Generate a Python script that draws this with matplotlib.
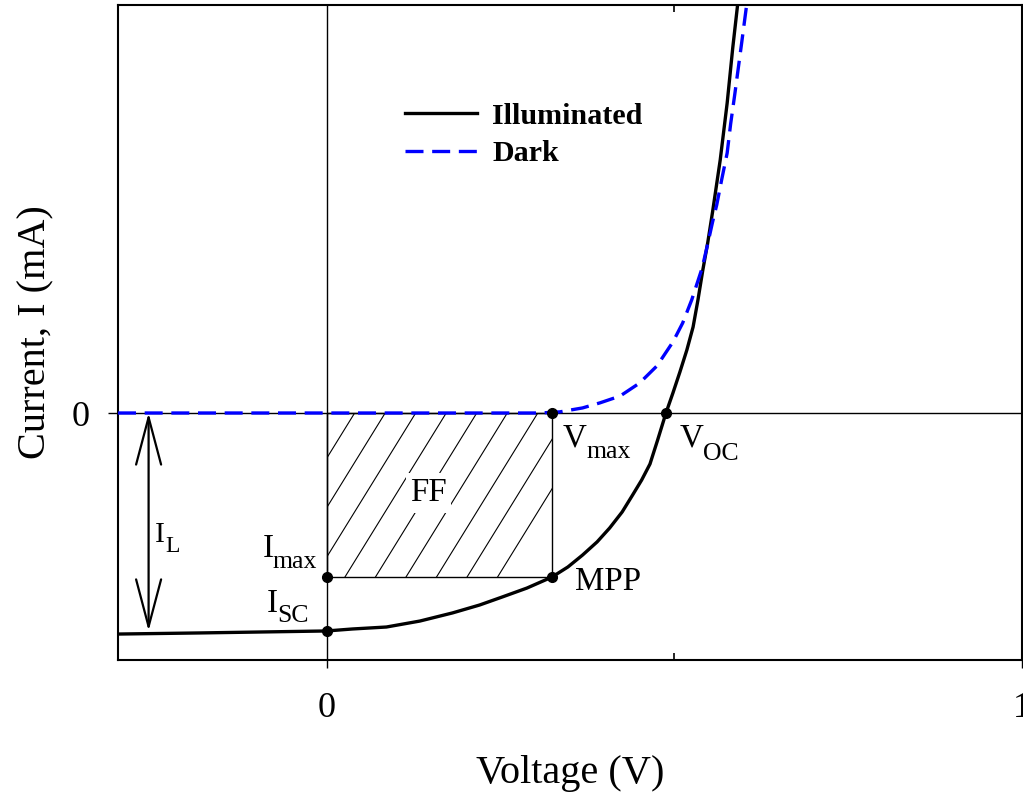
import numpy as np
import matplotlib
matplotlib.use("Agg")
import matplotlib.pyplot as plt
from matplotlib.patches import Rectangle
from matplotlib.ticker import FixedLocator

plt.rcParams['font.family'] = ['Liberation Serif', 'DejaVu Serif']

# ---- data (arbitrary units, I_SC ~ -1) ----
V_illum = [-0.300, -0.183, 0.000, 0.037, 0.086, 0.134, 0.181, 0.220, 0.253, 0.288, 0.324,
           0.347, 0.368, 0.389, 0.407, 0.425, 0.440, 0.453, 0.465, 0.476, 0.488, 0.498,
           0.508, 0.518, 0.527, 0.534, 0.541, 0.548, 0.555, 0.566, 0.576, 0.584, 0.591, 0.596]
I_illum = [-1.005, -1.000, -0.991, -0.982, -0.973, -0.946, -0.909, -0.873, -0.836, -0.796, -0.746,
           -0.700, -0.646, -0.586, -0.523, -0.450, -0.373, -0.305, -0.232, -0.123, 0.000, 0.091,
           0.186, 0.286, 0.391, 0.514, 0.650, 0.773, 0.914, 1.150, 1.409, 1.659, 1.855, 1.968]

V_dark = [-0.300, 0.000, 0.307, 0.335, 0.368, 0.393, 0.422, 0.450, 0.475, 0.498, 0.512,
          0.525, 0.540, 0.548, 0.555, 0.561, 0.568, 0.576, 0.581, 0.587, 0.597, 0.604, 0.607]
I_dark = [0.000, 0.000, 0.000, 0.005, 0.023, 0.046, 0.077, 0.136, 0.214, 0.323, 0.409,
          0.514, 0.659, 0.768, 0.868, 0.946, 1.059, 1.182, 1.314, 1.450, 1.686, 1.855, 1.923]

Isc = -0.991
Imax = -0.746
Vmax = 0.324
Voc = 0.488

xlim = (-0.3, 1.0)
ylim = (-1.123, 1.855)
x_major = [0, 1]
x_minor = [0.5]
y_major = [0]

fig = plt.figure(figsize=(10.23, 7.97), dpi=100)
ax = fig.add_axes([118/1023, 137/797, 904/1023, 655/797])
ax.set_xlim(*xlim)
ax.set_ylim(*ylim)

for s in ax.spines.values():
    s.set_linewidth(1.5)

# zero lines
ax.axvline(0, color='black', lw=1.0, zorder=1)
ax.axhline(0, color='black', lw=1.0, zorder=1)

# hatched FF rectangle
rect = Rectangle((0, Imax), Vmax, -Imax, facecolor='none', edgecolor='black', lw=1.0, zorder=2)
ax.add_patch(rect)
slope = 5.12
x_top0 = 0.0403
dxh = 0.0439
for k in range(-5, 9):
    xt = x_top0 + k * dxh
    xb = xt - (0 - Imax) / slope
    ln, = ax.plot([xt, xb], [0, Imax], color='black', lw=0.8, zorder=2)
    ln.set_clip_path(rect)

# curves
ax.plot(V_illum, I_illum, color='black', lw=2.4, label='Illuminated', zorder=4)
ax.plot(V_dark, I_dark, color='#0000FF', lw=2.4, dashes=(5.4, 2.6), label='Dark', zorder=5)

# markers
ax.plot([0, 0, Vmax, Vmax, Voc], [Isc, Imax, Imax, 0, 0], 'o', color='black', ms=7, zorder=6,
        clip_on=False)

# I_L double arrow
ax.annotate('', xy=(-0.256, 0), xytext=(-0.256, Isc),
            arrowprops=dict(arrowstyle='<->,head_length=34,head_width=9', mutation_scale=1,
                            lw=1.6, color='black', shrinkA=0, shrinkB=0))


def sub_label(x, y, main, sub, fs_main, fs_sub, dx_pt, dy_pt):
    ax.text(x, y, main, fontsize=fs_main, ha='left', va='baseline')
    ax.annotate(sub, xy=(x, y), xytext=(dx_pt, -dy_pt), textcoords='offset points',
                fontsize=fs_sub, ha='left', va='baseline')


fs = 23.8
fsub = 18.5
sub_label(0.3396, -0.1545, 'V', 'max', fs, fsub, 17.3, 7.9)
sub_label(0.5079, -0.1545, 'V', 'OC', fs, fsub, 16.6, 9.5)
sub_label(-0.0921, -0.6545, 'I', 'max', fs, fsub, 7.4, 8.0)
sub_label(-0.0863, -0.9045, 'I', 'SC', fs, fsub, 8.0, 7.2)
sub_label(-0.2475, -0.5864, 'I', 'L', 21.5, 17, 7.6, 7.2)
ax.text(0.3568, -0.8045, 'MPP', fontsize=fs, ha='left', va='baseline')
ax.text(0.1468, -0.3636, 'FF', fontsize=fs, ha='center', va='center', zorder=3,
        bbox=dict(facecolor='white', edgecolor='none', pad=3))

# ticks
ax.xaxis.set_major_locator(FixedLocator(x_major))
ax.xaxis.set_minor_locator(FixedLocator(x_minor))
ax.yaxis.set_major_locator(FixedLocator(y_major))
ax.set_xticklabels([str(v) for v in x_major])
ax.set_yticklabels([str(v) for v in y_major])
ax.tick_params(axis='x', which='major', direction='out', length=5.8, width=1.0,
               labelsize=26, pad=17, top=False)
ax.tick_params(axis='x', which='minor', direction='in', length=5, width=1.2,
               top=True, bottom=True)
ax.tick_params(axis='y', which='major', direction='out', length=7.2, width=1.0,
               labelsize=26, pad=13, right=False)

ax.set_xlabel('Voltage (V)', fontsize=29)
ax.xaxis.set_label_coords(0.5, -0.145)
ax.set_ylabel('Current, I (mA)', fontsize=29)
ax.yaxis.set_label_coords(-0.0708, 0.5)

leg = ax.legend(loc='upper left', bbox_to_anchor=(0.3175, 0.851), frameon=False,
                prop={'family': 'Liberation Serif', 'weight': 'bold', 'size': 21.6},
                handlelength=2.4, handletextpad=0.5, labelspacing=0.35,
                borderpad=0, borderaxespad=0)

fig.savefig('out.png', dpi=100)
